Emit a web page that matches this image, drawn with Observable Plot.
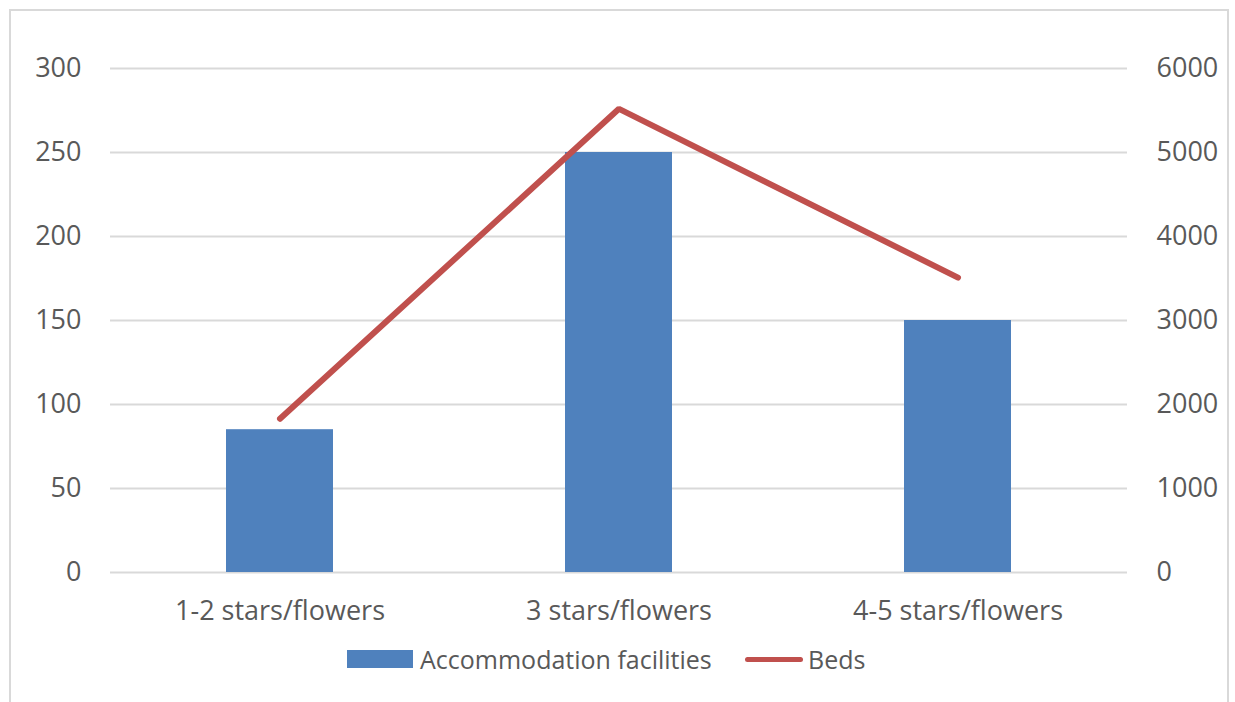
<!DOCTYPE html>
<html>
<head>
<meta charset="utf-8">
<script src="https://cdn.jsdelivr.net/npm/d3@7"></script>
<script src="https://cdn.jsdelivr.net/npm/@observablehq/plot@0.6"></script>
<style>
  html, body { margin: 0; padding: 0; background: #fff; }
  #wrap { position: relative; width: 1235px; height: 702px; overflow: hidden; font-family: "Open Sans", sans-serif; }
  #frame { position: absolute; left: 9px; top: 9px; width: 1220px; height: 720px; border: 2px solid #d9d9d9; box-sizing: border-box; }
  #chart { position: absolute; left: 0; top: 0; }
  #legend { position: absolute; top: 640px; left: 0; width: 1235px; height: 40px; font-size: 25px; color: #595959; }
  .item { position: absolute; top: 0; display: flex; align-items: center; height: 38px; }
  .sw-bar { width: 66px; height: 18px; background: #4f81bd; margin-right: 7px; }
  .sw-line { width: 58px; height: 5px; border-radius: 3px; background: #c0504d; margin-right: 5px; }
</style>
</head>
<body>
<div id="wrap">
  <div id="frame"></div>
  <div id="chart"></div>
  <div id="legend">
    <div class="item" style="left:347px"><div class="sw-bar"></div><span>Accommodation facilities</span></div>
    <div class="item" style="left:745px"><div class="sw-line"></div><span>Beds</span></div>
  </div>
</div>
<script>
const categories = ["1-2 stars/flowers", "3 stars/flowers", "4-5 stars/flowers"];
const facilities = [85, 250, 150];
const beds = [1830, 5520, 3510];
const leftTicks = [0, 50, 100, 150, 200, 250, 300];
const rightTicks = [0, 1000, 2000, 3000, 4000, 5000, 6000];
const ratio = 20; // right axis / left axis

const data = categories.map((c, i) => ({category: c, facilities: facilities[i], beds: beds[i]}));

const chart = Plot.plot({
  width: 1235,
  height: 640,
  marginLeft: 110,
  marginRight: 108,
  marginTop: 68,
  marginBottom: 68,
  style: {fontFamily: "'Open Sans', sans-serif", fontSize: "27px", color: "#595959", background: "transparent"},
  x: {domain: categories, padding: 0, label: null},
  y: {domain: [0, 300], label: null},
  marks: [
    Plot.gridY(leftTicks, {stroke: "#d9d9d9", strokeOpacity: 1, strokeWidth: 2}),
    Plot.barY(data, {x: "category", y: "facilities", fill: "#4f81bd", insetLeft: 116, insetRight: 116}),
    Plot.lineY(data, {x: "category", y: d => d.beds / ratio, stroke: "#c0504d", strokeWidth: 6, strokeLinecap: "round", strokeLinejoin: "miter"}),
    Plot.axisY(leftTicks, {anchor: "left", tickSize: 0, tickPadding: 29, label: null, fill: "#595959"}),
    Plot.axisY(rightTicks.map(v => v / ratio), {anchor: "right", tickSize: 0, tickPadding: 29, label: null, tickFormat: d => String(d * ratio), fill: "#595959"}),
    Plot.axisX({tickSize: 0, tickPadding: 28, label: null, fill: "#595959"})
  ]
});
document.getElementById("chart").appendChild(chart);
</script>
</body>
</html>
